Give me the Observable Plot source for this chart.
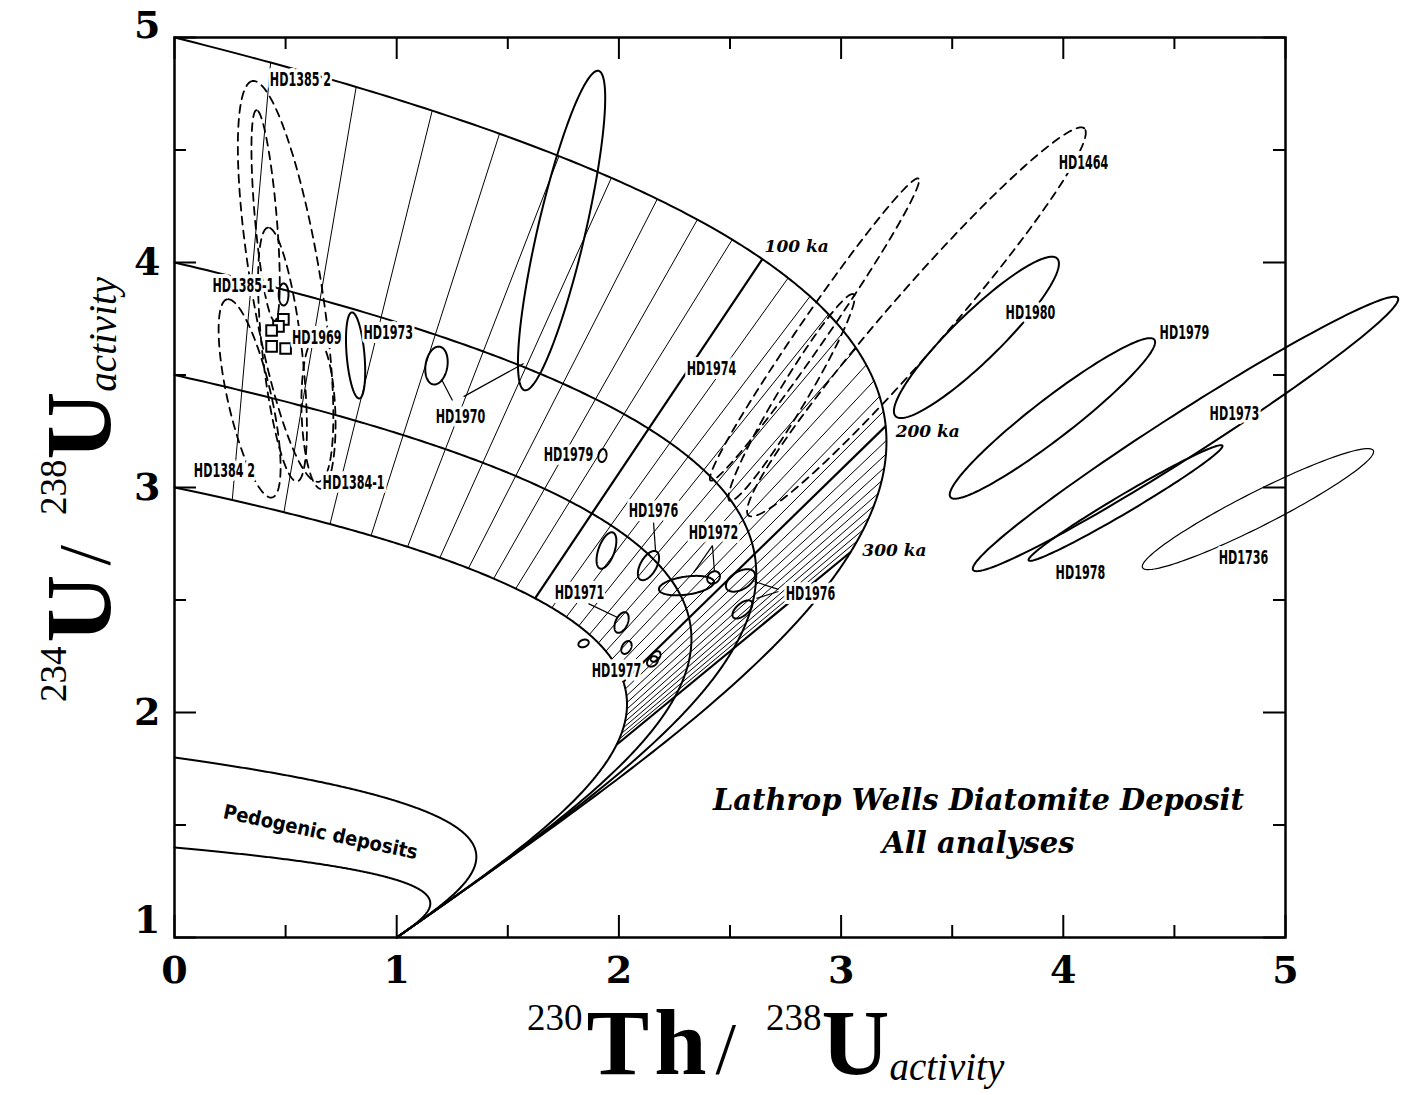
<!DOCTYPE html>
<html><head><meta charset="utf-8">
<script src="https://cdn.jsdelivr.net/npm/d3@7"></script>
<script src="https://cdn.jsdelivr.net/npm/@observablehq/plot@0.6"></script>
<style>
body{margin:0;background:#fff}
svg{display:block}
</style>
</head><body><div id="chart"></div>
<script>
// ---------- model constants (U-series evolution) ----------
const initialRatios = [1.4, 1.8, 3.0, 3.5, 4.0, 5.0];   // initial 234U/238U of growth curves
const halfLifeTh230 = 75.69;   // ka
const halfLifeU234 = 245.25;   // ka
const isochronAges = [10,20,30,40,50,60,70,80,90,100,110,120,130,140,150,160,170,180,190,200,
                      210,220,230,240,250,260,270,280,290,300];
const isochronFrom = 3.0, isochronTo = 5.0;
const majorAges = [100, 200, 300];
const ageLabelText = ["100 ka", "200 ka", "300 ka"];
const ageLabelX = [2.80, 3.39, 3.24];
const ageLabelY = [4.07, 3.25, 2.72];

// ---------- error ellipses (center, semi-axes, orientation) ----------
const ellId    = ["HD1385 2","HD1385 2b","HD1385-1d","HD1384 2","HD1384-1",
                  "HD1385-1","HD1973a","HD1970a","HD1970b",
                  "HD1979a","HD1976x","HD1976a","HD1971","HD1977x","HD1977y","HD1977a","HD1977b",
                  "HD1972a","HD1972b","HD1976b","HD1976c",
                  "HD1464x","HD1464","HD1464y",
                  "HD1980","HD1979","HD1973","HD1978","HD1736"];
const ellKind  = ["dashed","dashed","dashed","dashed","dashed",
                  "solid","solid","solid","solid",
                  "solid","solid","solid","solid","solid","solid","solid","solid",
                  "solid","solid","solid","solid",
                  "dashed","dashed","dashed",
                  "solid","solid","solid","solid","thin"];
const ellCX    = [0.500,0.410,0.486,0.338,0.648,
                  0.491,0.815,1.179,1.742,
                  1.926,1.944,2.133,2.012,1.841,2.034,2.165,2.151,
                  2.304,2.426,2.547,2.556,
                  2.880,3.339,2.777,
                  3.609,3.951,4.550,4.280,4.876];
const ellCY    = [3.916,4.209,3.591,3.396,3.329,
                  3.858,3.587,3.542,4.142,
                  3.142,2.720,2.653,2.400,2.307,2.289,2.249,2.227,
                  2.564,2.600,2.587,2.458,
                  3.702,3.736,3.400,
                  3.667,3.307,3.238,2.931,2.904];
const ellA     = [0.903,0.470,0.568,0.452,0.335,
                  0.049,0.192,0.085,0.729,
                  0.029,0.085,0.072,0.049,0.024,0.031,0.027,0.027,
                  0.125,0.031,0.072,0.054,
                  0.818,1.145,0.537,
                  0.505,0.577,1.131,0.505,0.581];
const ellB     = [0.157,0.049,0.089,0.098,0.076,
                  0.022,0.040,0.049,0.107,
                  0.018,0.036,0.036,0.027,0.016,0.020,0.018,0.020,
                  0.040,0.025,0.040,0.027,
                  0.063,0.134,0.063,
                  0.107,0.089,0.098,0.040,0.076];
const ellAngle = [99.5,95,96.6,103,92,
                  90,95,80,76.8,
                  80,70,60,65,20,60,50,40,
                  8,40,30,40,
                  55.1,48.7,58.7,
                  43.9,37.3,32.3,30.3,26.6];

// HD1969 individual analyses (squares)
const sqX = [0.490, 0.468, 0.437, 0.437, 0.500];
const sqY = [3.747, 3.716, 3.698, 3.627, 3.618];

// sample labels
const labText = ["HD1385 2","HD1385-1","HD1969","HD1973","HD1970","HD1384 2","HD1384-1","HD1974",
                 "HD1979","HD1976","HD1971","HD1977","HD1972","HD1976",
                 "HD1464","HD1980","HD1979","HD1973","HD1978","HD1736"];
const labX = [0.567,0.310,0.640,0.962,1.287,0.225,0.806,2.417,
              1.773,2.156,1.823,1.989,2.426,2.862,
              4.091,3.852,4.545,4.770,4.077,4.811];
const labY = [4.813,3.898,3.667,3.689,3.316,3.076,3.022,3.529,
              3.147,2.898,2.533,2.187,2.800,2.529,
              4.444,3.778,3.689,3.329,2.622,2.689];
// leader lines
const leadX1 = [1.251,1.301,2.156,1.863,2.421,2.421,2.718,2.718];
const leadY1 = [3.387,3.404,2.844,2.484,2.742,2.742,2.547,2.538];
const leadX2 = [1.202,1.571,2.165,1.994,2.336,2.430,2.610,2.619];
const leadY2 = [3.480,3.551,2.716,2.422,2.622,2.627,2.582,2.507];

const xTicks = [0,1,2,3,4,5];
const yTicks = [1,2,3,4,5];
const xMinor = [0.5,1.5,2.5,3.5,4.5];
const yMinor = [1.5,2.5,3.5,4.5];

// ---------- layout ----------
const W = 1407, H = 1095;
const mL = 174, mR = 122, mT = 37, mB = 158;
const xDom = [0,5], yDom = [1,5];
const pxX = (W - mL - mR) / (xDom[1]-xDom[0]);
const pxY = (H - mT - mB) / (yDom[1]-yDom[0]);
const majLen = 22, minLen = 12;

// ---------- derived geometry ----------
const l230 = Math.LN2 / halfLifeTh230, l234 = Math.LN2 / halfLifeU234;
function ratios(g, t) {
  const e4 = Math.exp(-l234*t), e0 = Math.exp(-l230*t);
  return {x: 1 - e0 + (g-1)*l230/(l230-l234)*(e4 - e0), y: 1 + (g-1)*e4};
}
const times = d3.range(0, 400, 1).concat(d3.range(400, 5000, 10));
const curves = initialRatios.flatMap(g => times.map(t => ({g, ...ratios(g, t)})));
const isochrons = isochronAges.map(t => {
  const a = ratios(isochronFrom, t), b = ratios(isochronTo, t);
  return {t, x1: a.x, y1: a.y, x2: b.x, y2: b.y, major: majorAges.includes(t)};
});
const ellipses = ellId.flatMap((id, i) => {
  const th = ellAngle[i]*Math.PI/180;
  return d3.range(0, 145).map(k => {
    const s = 2*Math.PI*k/144;
    const u = ellA[i]*Math.cos(s), v = ellB[i]*Math.sin(s);
    return {id, kind: ellKind[i],
      x: ellCX[i] + u*Math.cos(th) - v*Math.sin(th),
      y: ellCY[i] + u*Math.sin(th) + v*Math.cos(th)};
  });
});
const squares = sqX.map((x, i) => ({x, y: sqY[i]}));
const labels = labText.map((text, i) => ({text, x: labX[i], y: labY[i]}));
const leaders = leadX1.map((x1, i) => ({x1, y1: leadY1[i], x2: leadX2[i], y2: leadY2[i]}));
const ageLabels = ageLabelText.map((text, i) => ({text, x: ageLabelX[i], y: ageLabelY[i]}));

const labelFont = "'Arial Narrow','DejaVu Sans Condensed',sans-serif";
const pedoFont = "'DejaVu Sans Condensed',sans-serif";
const serif = "'DejaVu Serif',serif";

const plot = Plot.plot({
  width: W, height: H,
  marginLeft: mL, marginRight: mR, marginTop: mT, marginBottom: mB,
  x: {domain: xDom, axis: null},
  y: {domain: yDom, axis: null},
  style: {background: "white", overflow: "visible"},
  marks: [
    Plot.line(curves, {x: "x", y: "y", z: "g", stroke: "black", strokeWidth: 2}),
    Plot.link(isochrons.filter(d => !d.major), {x1: "x1", y1: "y1", x2: "x2", y2: "y2", stroke: "black", strokeWidth: 1}),
    Plot.link(isochrons.filter(d => d.major), {x1: "x1", y1: "y1", x2: "x2", y2: "y2", stroke: "black", strokeWidth: 2.2}),
    Plot.line(ellipses.filter(d => d.kind === "solid"), {x: "x", y: "y", z: "id", stroke: "black", strokeWidth: 2}),
    Plot.line(ellipses.filter(d => d.kind === "thin"), {x: "x", y: "y", z: "id", stroke: "black", strokeWidth: 1.2}),
    Plot.line(ellipses.filter(d => d.kind === "dashed"), {x: "x", y: "y", z: "id", stroke: "black", strokeWidth: 1.8, strokeDasharray: "8,6"}),
    Plot.dot(squares, {x: "x", y: "y", symbol: "square", r: 6, stroke: "black", strokeWidth: 2, fill: "white"}),
    Plot.link(leaders, {x1: "x1", y1: "y1", x2: "x2", y2: "y2", stroke: "black", strokeWidth: 1.2}),
    Plot.text(labels, {x: "x", y: "y", text: "text", fontFamily: labelFont, fontWeight: "bold", fontSize: 20,
      fill: "black", stroke: "white", strokeWidth: 8}),
    Plot.text(ageLabels, {x: "x", y: "y", text: "text", fontFamily: serif, fontWeight: "bold", fontStyle: "italic",
      fontSize: 17, fill: "black", stroke: "white", strokeWidth: 3}),
    Plot.text(["Pedogenic deposits"], {x: 0.657, y: 1.467, text: d => d, rotate: 12, fontFamily: pedoFont,
      fontWeight: "bold", fontSize: 20}),
    Plot.text(["Lathrop Wells Diatomite Deposit", "All analyses"], {x: 3.618, y: (d, i) => [1.609, 1.418][i], text: d => d,
      fontFamily: serif, fontWeight: "bold", fontStyle: "italic", fontSize: 29}),
    // inward ticks on all four sides
    Plot.ruleX(xTicks, {x: d => d, y1: yDom[0], y2: yDom[0] + majLen/pxY, stroke: "black", strokeWidth: 2}),
    Plot.ruleX(xMinor, {x: d => d, y1: yDom[0], y2: yDom[0] + minLen/pxY, stroke: "black", strokeWidth: 2}),
    Plot.ruleX(xTicks, {x: d => d, y1: yDom[1], y2: yDom[1] - majLen/pxY, stroke: "black", strokeWidth: 2}),
    Plot.ruleX(xMinor, {x: d => d, y1: yDom[1], y2: yDom[1] - minLen/pxY, stroke: "black", strokeWidth: 2}),
    Plot.ruleY(yTicks, {y: d => d, x1: xDom[0], x2: xDom[0] + majLen/pxX, stroke: "black", strokeWidth: 2}),
    Plot.ruleY(yMinor, {y: d => d, x1: xDom[0], x2: xDom[0] + minLen/pxX, stroke: "black", strokeWidth: 2}),
    Plot.ruleY(yTicks, {y: d => d, x1: xDom[1], x2: xDom[1] - majLen/pxX, stroke: "black", strokeWidth: 2}),
    Plot.ruleY(yMinor, {y: d => d, x1: xDom[1], x2: xDom[1] - minLen/pxX, stroke: "black", strokeWidth: 2}),
    Plot.frame({stroke: "black", strokeWidth: 2.5}),
    // tick labels
    Plot.text(xTicks, {x: d => d, y: yDom[0], dy: 33, text: d => String(d), fontFamily: serif, fontWeight: "bold", fontSize: 38}),
    Plot.text(yTicks.filter(d => d > yDom[0] && d < yDom[1]), {x: xDom[0], y: d => d, dx: -14, text: d => String(d), textAnchor: "end",
      fontFamily: serif, fontWeight: "bold", fontSize: 38}),
    Plot.text([yDom[0]], {x: xDom[0], y: d => d, dx: -14, dy: -17, text: d => String(d), textAnchor: "end",
      fontFamily: serif, fontWeight: "bold", fontSize: 38}),
    Plot.text([yDom[1]], {x: xDom[0], y: d => d, dx: -14, dy: -12, text: d => String(d), textAnchor: "end",
      fontFamily: serif, fontWeight: "bold", fontSize: 38})
  ]
});

// axis titles with super/subscripts
const svg = d3.select(plot);
function axisTitle(g, sup1, main1, sup2, main2, sub) {
  const t = g.append("text").attr("font-family", "'Liberation Serif',serif").attr("fill", "black")
    .attr("text-anchor", "start");
  t.append("tspan").attr("font-size", 37).attr("dy", -44).text(sup1);
  t.append("tspan").attr("font-size", 94).attr("font-weight", "bold").attr("dx", 4).attr("dy", 44)
    .attr("letter-spacing", 5).text(main1);
  t.append("tspan").attr("font-size", 74).attr("letter-spacing", 0).attr("dx", 4).text("/");
  t.append("tspan").attr("font-size", 37).attr("dx", 30).attr("dy", -44).text(sup2);
  t.append("tspan").attr("font-size", 94).attr("font-weight", "bold").attr("dy", 44).text(main2);
  t.append("tspan").attr("font-size", 39).attr("font-style", "italic").attr("dy", 6).text(sub);
}
axisTitle(svg.append("g").attr("transform", "translate(527,1074)"), "230", "Th", "238", "U", "activity");
axisTitle(svg.append("g").attr("transform", "translate(110,702) rotate(-90)"), "234", "U", "238", "U", "activity");

document.getElementById("chart").appendChild(plot);
// condense the sample labels like the original narrow lettering
svg.selectAll('g[font-family*="Arial Narrow"] text').each(function() {
  const tr = this.getAttribute("transform") || "";
  this.setAttribute("transform", tr + " scale(0.62,1)");
});
</script>
</body></html>
